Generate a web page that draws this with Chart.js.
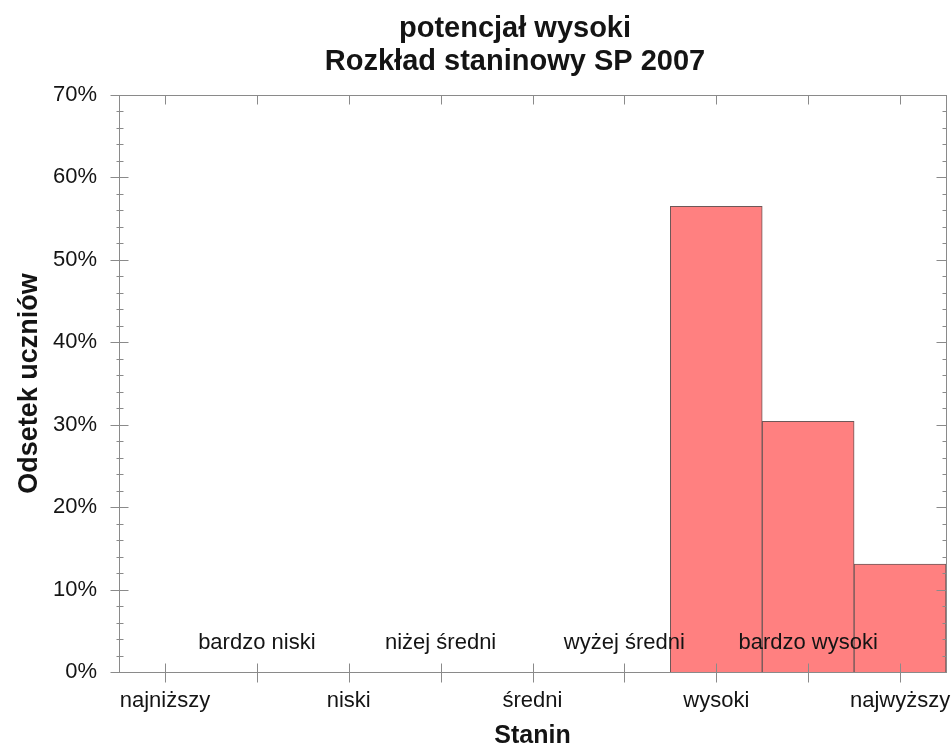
<!DOCTYPE html>
<html>
<head>
<meta charset="utf-8">
<script src="https://cdn.jsdelivr.net/npm/chart.js"></script>
<style>
  html, body { margin: 0; padding: 0; background: #fff; }
  #wrap { width: 952px; height: 751px; }
</style>
</head>
<body>
<div id="wrap"><canvas id="chart" width="952" height="751"></canvas></div>
<script>
// stanine categories 1..9
const stanines = ['1', '2', '3', '4', '5', '6', '7', '8', '9'];
// labels under the axis (odd stanines) and inside the plot (even stanines)
const outerLabels = ['najniższy', '', 'niski', '', 'średni', '', 'wysoki', '', 'najwyższy'];
const innerLabels = ['', 'bardzo niski', '', 'niżej średni', '', 'wyżej średni', '', 'bardzo wysoki', ''];
// percent of students per stanine
const shares = [0, 0, 0, 0, 0, 0, 56.5, 30.4, 13.1];
const yTicks = [0, 10, 20, 30, 40, 50, 60, 70];
const titleLines = ['potencjał wysoki', 'Rozkład staninowy SP 2007'];

const FONT = 'Liberation Sans, Arial, sans-serif';
const AXIS = '#8a8a8a';
const TEXT = '#141414';

// two-line title, centred a bit left of the plot like the original
const titleText = {
    id: 'titleText',
    afterDraw(chart) {
        const { ctx } = chart;
        ctx.save();
        ctx.fillStyle = TEXT;
        ctx.font = 'bold 29px ' + FONT;
        ctx.textAlign = 'center';
        ctx.textBaseline = 'alphabetic';
        titleLines.forEach((t, i) => ctx.fillText(t, 515, 37 + i * 33));
        ctx.restore();
    }
};

// frame + tick marks, and the inner category labels
const decorations = {
    id: 'decorations',
    afterDatasetsDraw(chart) {
        const { ctx, chartArea: a, scales: { x, y } } = chart;
        ctx.save();
        ctx.strokeStyle = AXIS;
        ctx.lineWidth = 1;
        ctx.strokeRect(Math.round(a.left) + 0.5, Math.round(a.top) + 0.5,
            Math.round(a.right - a.left), Math.round(a.bottom - a.top));

        const line = (x1, y1, x2, y2) => {
            ctx.beginPath();
            ctx.moveTo(x1, y1);
            ctx.lineTo(x2, y2);
            ctx.stroke();
        };
        const L = Math.round(a.left) + 0.5, R = Math.round(a.right) + 0.5;
        for (let v = 0; v <= 70; v += 2) {
            const py = Math.round(y.getPixelForValue(v)) + 0.5;
            if (v % 10 === 0) {
                line(L - 9, py, L + 9, py);
                line(R - 10, py, R, py);
            } else {
                line(L - 3, py, L + 4, py);
                line(R - 4, py, R, py);
            }
        }
        const T = Math.round(a.top) + 0.5, B = Math.round(a.bottom) + 0.5;
        stanines.forEach((s, i) => {
            const px = Math.round(x.getPixelForValue(i)) + 0.5;
            line(px, B - 9, px, B + 10);
            line(px, T, px, T + 9);
        });

        ctx.fillStyle = TEXT;
        ctx.font = '22px ' + FONT;
        ctx.textAlign = 'center';
        ctx.textBaseline = 'alphabetic';
        innerLabels.forEach((t, i) => {
            if (t) ctx.fillText(t, x.getPixelForValue(i), y.getPixelForValue(0) - 23);
        });
        ctx.restore();
    }
};

new Chart(document.getElementById('chart'), {
    type: 'bar',
    data: {
        labels: stanines,
        datasets: [{
            data: shares,
            backgroundColor: '#ff8080',
            borderColor: '#6e5858',
            borderWidth: 1,
            barPercentage: 1,
            categoryPercentage: 1,
        }]
    },
    options: {
        responsive: false,
        animation: false,
        layout: { padding: { left: 0, right: 6, top: 95, bottom: 0 } },
        plugins: {
            legend: { display: false },
            tooltip: { enabled: false },
            title: { display: false },
        },
        scales: {
            x: {
                grid: { display: false, drawTicks: false },
                border: { display: false },
                afterFit: (s) => {
                    s.height = 79;
                    s.paddingLeft = 0;
                    s.paddingRight = 0;
                },
                ticks: {
                    color: TEXT,
                    font: { family: FONT, size: 22 },
                    padding: 16,
                    autoSkip: false,
                    maxRotation: 0,
                    callback: (v, i) => outerLabels[i],
                },
                title: {
                    display: true,
                    text: 'Stanin',
                    color: TEXT,
                    font: { family: FONT, size: 25, weight: 'bold' },
                    padding: { top: -3, bottom: 0 },
                },
            },
            y: {
                min: 0,
                max: 70,
                grid: { display: false, drawTicks: false },
                border: { display: false },
                afterBuildTicks: (s) => { s.ticks = yTicks.map(v => ({ value: v })); },
                afterFit: (s) => { s.width = 119; },
                ticks: {
                    color: TEXT,
                    font: { family: FONT, size: 22 },
                    padding: 22,
                    callback: (v) => v + '%',
                },
                title: {
                    display: true,
                    text: 'Odsetek uczniów',
                    color: TEXT,
                    font: { family: FONT, size: 27, weight: 'bold' },
                    padding: { top: 13, bottom: 0 },
                },
            },
        },
    },
    plugins: [decorations, titleText],
});
</script>
</body>
</html>
